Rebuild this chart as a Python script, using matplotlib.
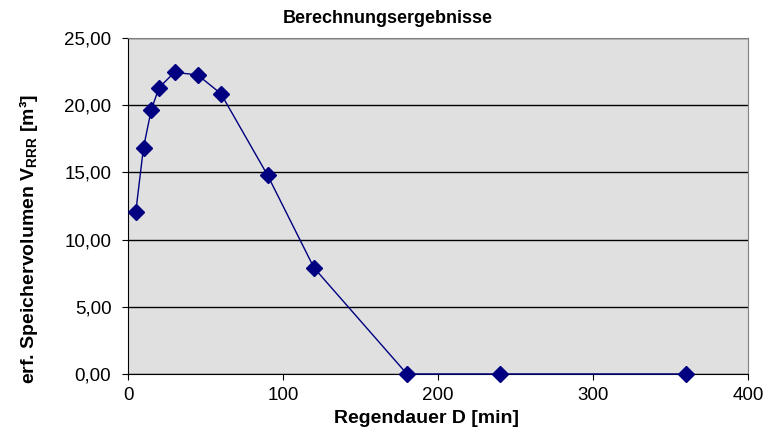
import matplotlib.pyplot as plt
from matplotlib.ticker import FuncFormatter

plt.rcParams['font.family'] = ['Liberation Sans', 'DejaVu Sans']
plt.rcParams['mathtext.fontset'] = 'custom'
plt.rcParams['mathtext.rm'] = 'Liberation Sans'
plt.rcParams['mathtext.bf'] = 'Liberation Sans:bold'

dauer = [5, 10, 15, 20, 30, 45, 60, 90, 120, 180, 240, 360]
volumen = [12.05, 16.85, 19.65, 21.3, 22.45, 22.25, 20.85, 14.8, 7.9, 0.0, 0.0, 0.0]
y_ticks = [0, 5, 10, 15, 20, 25]
x_ticks = [0, 100, 200, 300, 400]

W, H = 767, 429
fig = plt.figure(figsize=(W / 100, H / 100), dpi=100)
ax = fig.add_axes([128/W, 1 - 374/H, (748 - 128)/W, (374 - 38)/H])
ax.set_facecolor('#e0e0e0')

ax.plot(dauer, volumen, color='#000080', linewidth=1, marker='D', markersize=8.5,
        markerfacecolor='#000080', markeredgecolor='#000080', zorder=3, clip_on=False)

ax.set_xlim(0, 400)
ax.set_ylim(0, 25)
ax.set_xticks(x_ticks)
ax.set_yticks(y_ticks)
ax.yaxis.set_major_formatter(FuncFormatter(lambda v, p: f'{v:.2f}'.replace('.', ',')))
ax.grid(axis='y', color='black', linewidth=1)
ax.set_axisbelow(True)

for s in ['top', 'right']:
    ax.spines[s].set_color('#808080')
for s in ['left', 'bottom']:
    ax.spines[s].set_color('black')
ax.tick_params(axis='both', direction='out', length=4, labelsize=13.5, color='black')
ax.tick_params(axis='y', pad=8)
ax.tick_params(axis='x', pad=5)

# Titel und Achsenbeschriftungen wie im Excel-Diagramm (auf Diagrammfläche zentriert)
fig.text(388/W, 1 - 23/H, 'Berechnungsergebnisse', fontsize=13, fontweight='bold',
         ha='center', va='baseline')
fig.text(426/W, 1 - 423/H, 'Regendauer D [min]', fontsize=14, fontweight='bold',
         ha='center', va='baseline')
fig.text(29/W, 1 - 239/H, r'erf. Speichervolumen V$_{\mathbf{RRR}}$ [m³]', fontsize=14,
         fontweight='bold', rotation=90, ha='center', va='center')

fig.savefig('out.png', dpi=100)
